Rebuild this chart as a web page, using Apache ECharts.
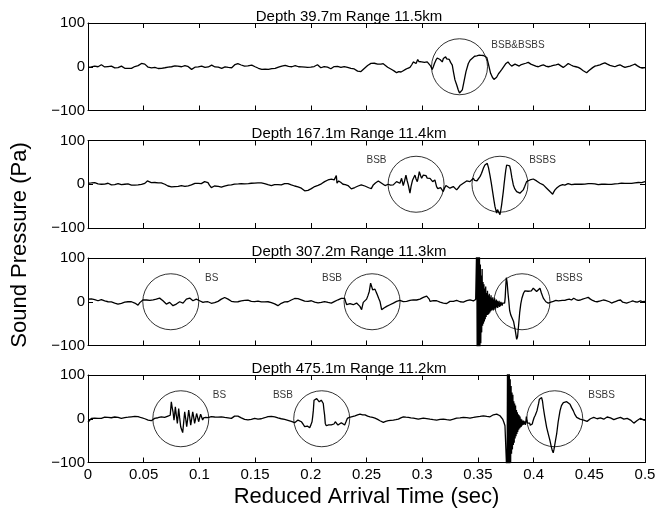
<!DOCTYPE html>
<html><head><meta charset="utf-8">
<script src="https://cdn.jsdelivr.net/npm/echarts@6/dist/echarts.min.js"></script>
<style>html,body{margin:0;padding:0;background:#fff}#c{width:667px;height:510px}</style>
</head><body><div id="c"></div>
<script>
const titles = ['Depth 39.7m Range 11.5km','Depth 167.1m Range 11.4km','Depth 307.2m Range 11.3km','Depth 475.1m Range 11.2km'];
const xTicks = [0,0.05,0.1,0.15,0.2,0.25,0.3,0.35,0.4,0.45,0.5];
const xTickLabels = ['0','0.05','0.1','0.15','0.2','0.25','0.3','0.35','0.4','0.45','0.5'];
const yTicks = [-100,0,100];
const yTickLabels = ['\u2212100','0','100'];

const p1 = [[0,-1.5],[0.0015,0.5],[0.003,-0.5],[0.0045,1],[0.006,1.5],[0.0075,-1],[0.009,0],[0.0105,2.5],[0.012,4.5],[0.0135,2],[0.015,-0.5],[0.0165,-1.5],[0.018,0.5],[0.0195,-0.5],[0.021,1.5],[0.0225,-1],[0.024,-2.5],[0.0254,-3.8],[0.027,-2],[0.0285,0],[0.03,1.5],[0.0315,-0.5],[0.033,-3.5],[0.0345,-6],[0.036,-3.5],[0.0375,-2],[0.039,-3.8],[0.0405,-1.5],[0.042,0.5],[0.0434,1.5],[0.045,2.5],[0.0465,5.5],[0.048,7.6],[0.0495,8],[0.051,6],[0.0525,2.5],[0.054,-1],[0.0554,-3.8],[0.057,-2.5],[0.0585,-1],[0.06,-1.5],[0.0615,-3],[0.063,-4],[0.0645,-5.3],[0.066,-3.5],[0.0675,-1.5],[0.069,-2.3],[0.0705,-0.5],[0.072,-1],[0.0735,0.5],[0.075,0],[0.0765,1.5],[0.078,2],[0.079,3],[0.0805,1.5],[0.082,0.5],[0.084,0],[0.0855,1.5],[0.087,2.5],[0.088,3.8],[0.0895,1],[0.091,-2.5],[0.093,-6],[0.0945,-3.5],[0.096,-1],[0.0975,0.5],[0.099,-0.5],[0.1005,1],[0.102,1.5],[0.1035,0],[0.105,-1.5],[0.1065,-2.3],[0.108,-0.5],[0.1095,1.5],[0.111,3.8],[0.1125,2],[0.114,-0.5],[0.1155,-1.5],[0.117,-1],[0.1185,-2.5],[0.12,-3.8],[0.1215,-2],[0.123,-0.5],[0.1245,0],[0.126,-1.5],[0.1275,-0.5],[0.129,-2.3],[0.1305,0.5],[0.132,5],[0.133,9],[0.1345,7],[0.136,5.3],[0.1375,4],[0.139,2.5],[0.1405,1.5],[0.142,3],[0.1435,2],[0.145,3.5],[0.147,3.8],[0.1485,2],[0.15,0],[0.1515,-1.5],[0.153,-3.5],[0.1545,-5],[0.156,-6],[0.1575,-5],[0.159,-5.5],[0.1605,-4.5],[0.162,-6],[0.1635,-5],[0.165,-4.5],[0.1665,-5.5],[0.168,-3.8],[0.1695,-2],[0.171,-1],[0.1725,0],[0.174,1.5],[0.1755,0.5],[0.177,3],[0.1785,2],[0.18,1],[0.1815,1.5],[0.183,0],[0.1845,1],[0.186,2.3],[0.1875,1.5],[0.189,0],[0.1905,-1.5],[0.192,-0.5],[0.1935,0],[0.195,-1],[0.197,-1.5],[0.1985,-0.5],[0.2,-1],[0.2015,0],[0.203,0.5],[0.2045,3],[0.206,4.5],[0.2075,1],[0.209,-2.3],[0.2105,-1],[0.212,0.5],[0.2135,-0.5],[0.215,-1],[0.2165,-2.5],[0.218,-4.5],[0.2195,-2],[0.221,0.5],[0.2225,2.3],[0.224,1],[0.2255,0],[0.227,-1.5],[0.2285,-0.5],[0.23,0.5],[0.2315,-0.5],[0.233,-1.5],[0.2345,-2.5],[0.236,-3.8],[0.2375,-4.5],[0.239,-5],[0.2405,-7],[0.242,-10],[0.2435,-13],[0.245,-11],[0.2465,-7],[0.248,-3.8],[0.2495,0],[0.251,3],[0.2525,5.5],[0.254,7.6],[0.2555,7],[0.257,8],[0.2585,6.5],[0.26,6],[0.2615,7.5],[0.263,6],[0.265,7],[0.267,3],[0.269,-1],[0.271,-4],[0.273,-7],[0.275,-10],[0.277,-13.6],[0.279,-11],[0.281,-12],[0.283,-9],[0.285,-6],[0.287,-3.5],[0.289,-1.5],[0.2905,4],[0.292,11],[0.293,9],[0.2945,7.5],[0.296,16.6],[0.297,12],[0.298,9],[0.2995,11],[0.301,7.5],[0.302,10],[0.303,13.6],[0.3045,11],[0.306,9],[0.3075,2],[0.309,-6],[0.31,0],[0.311,7.5],[0.3123,15],[0.3135,20],[0.3144,24],[0.315,20],[0.316,16.6],[0.317,14],[0.318,11],[0.319,19],[0.32,18],[0.321,22.7],[0.322,18],[0.323,13.6],[0.3243,16.6],[0.3255,10],[0.327,3.8],[0.328,-11],[0.3294,-30],[0.331,-41.6],[0.3324,-53],[0.3335,-60],[0.3345,-64],[0.3352,-60],[0.336,-53],[0.3375,-34],[0.3393,-11],[0.3414,7.5],[0.343,15],[0.3444,19],[0.347,24],[0.349,25],[0.3512,26.5],[0.353,26],[0.355,25.7],[0.3565,24],[0.358,21],[0.3593,7.5],[0.3614,-15],[0.363,-24],[0.3644,-29],[0.3655,-27],[0.3668,-24],[0.3685,-16],[0.37,-11],[0.3715,-6],[0.373,-1.5],[0.3752,7.5],[0.377,11],[0.3785,6],[0.3803,1.5],[0.382,4],[0.3833,6],[0.385,3.5],[0.3871,1.5],[0.389,5],[0.3907,7.5],[0.393,8],[0.3952,10],[0.3975,6],[0.3997,3.8],[0.402,1.5],[0.4042,0],[0.4065,2.5],[0.4087,4.5],[0.411,1.5],[0.4132,0],[0.4155,1.5],[0.4177,3],[0.42,4.5],[0.4222,6],[0.4245,2],[0.4266,-1.5],[0.429,3],[0.4311,7.5],[0.4335,4],[0.4356,1.5],[0.438,0],[0.4401,-1.5],[0.4425,-5],[0.4446,-9],[0.4462,-12],[0.4476,-13.6],[0.4495,-9],[0.4512,-6],[0.453,-2],[0.4551,1.5],[0.457,2.5],[0.4595,4.5],[0.462,7],[0.464,9],[0.4662,6],[0.4685,3],[0.471,1.5],[0.473,0],[0.4752,2.5],[0.4775,4.5],[0.48,1],[0.482,-1.5],[0.4845,0.5],[0.4865,1.5],[0.489,4],[0.491,6],[0.4932,2],[0.4955,-1.5],[0.4975,-3],[0.4985,-3.8],[0.5,-2]];

const p2 = [[0,2.3],[0.0015,1],[0.003,3],[0.0045,2],[0.006,3.8],[0.0075,2],[0.009,1],[0.0105,-0.5],[0.012,0],[0.0135,1.5],[0.015,0.5],[0.0165,2],[0.018,2.3],[0.0195,0],[0.021,-1.5],[0.0224,-3],[0.024,-1],[0.0255,0.5],[0.027,1.5],[0.0285,0],[0.03,-1],[0.0314,-1.5],[0.033,0],[0.0345,1],[0.0359,0.8],[0.0375,-1],[0.039,-2],[0.0404,-3],[0.042,-2],[0.0435,-1],[0.0449,-1.5],[0.0465,0],[0.048,-0.5],[0.0494,0],[0.051,2],[0.052,5],[0.0533,7.6],[0.055,5],[0.0568,3.8],[0.0585,5],[0.06,4],[0.0613,4.5],[0.063,3],[0.0645,4],[0.0658,3],[0.0675,1.5],[0.069,0],[0.0703,-1.5],[0.0718,-4],[0.0733,-6.8],[0.075,-6],[0.0765,-5],[0.0778,-5.3],[0.0795,-4],[0.081,-5],[0.0825,-3.5],[0.0838,-3],[0.0855,-4],[0.087,-5],[0.0883,-5.3],[0.09,-3.5],[0.0915,-2.5],[0.0928,-1.5],[0.0945,0.5],[0.096,2],[0.0972,3],[0.099,2],[0.1005,1],[0.1017,1.5],[0.103,4],[0.1047,6],[0.106,5],[0.1077,3.8],[0.109,-2],[0.1107,-7.6],[0.112,-5],[0.1135,-4],[0.1152,-3],[0.117,-5],[0.1185,-6],[0.1197,-6.8],[0.121,-5],[0.1225,-4.5],[0.1242,-3.8],[0.126,-2],[0.1275,-2.5],[0.1287,-1.5],[0.13,-1],[0.1315,0.5],[0.1331,0],[0.135,1],[0.136,2],[0.1376,1.5],[0.139,0.5],[0.1405,1],[0.1421,0],[0.144,1.5],[0.1455,1],[0.1466,2.3],[0.148,3],[0.1495,2.5],[0.1511,3.8],[0.1525,3],[0.154,2],[0.1556,3],[0.157,2],[0.1585,1.5],[0.1601,0.8],[0.1615,-1],[0.163,-2],[0.1646,-3],[0.166,-2],[0.1675,-1],[0.169,0],[0.1705,-1],[0.172,-0.5],[0.1735,-1.5],[0.175,0],[0.1765,1.5],[0.178,3],[0.1795,1.5],[0.181,0],[0.1825,-1.5],[0.184,-2.5],[0.1855,-4],[0.187,-5.3],[0.1885,-6],[0.19,-7.5],[0.1915,-9],[0.193,-12],[0.1945,-15],[0.196,-16.7],[0.1975,-14],[0.199,-12.9],[0.2005,-10],[0.202,-7],[0.2035,-5.3],[0.205,-3],[0.2065,-2.5],[0.208,-1.5],[0.2095,1],[0.211,3],[0.2124,6],[0.214,8],[0.2154,9.8],[0.217,10.5],[0.2185,11.5],[0.2199,11.4],[0.221,10],[0.222,9.5],[0.2226,14],[0.2229,19.7],[0.2232,12],[0.2235,2.3],[0.2243,5],[0.225,7.6],[0.2258,5],[0.2268,4.5],[0.228,2],[0.2289,0],[0.231,-1],[0.2334,-3],[0.235,-7],[0.2364,-10.6],[0.238,-9],[0.2395,-7.5],[0.2409,-6],[0.2425,-4],[0.244,-2.5],[0.2453,-1.5],[0.247,-3.5],[0.2485,-4],[0.2498,-5.3],[0.252,-8],[0.2531,-7.6],[0.2543,-10],[0.2561,-1.5],[0.258,3],[0.2606,7.6],[0.262,5],[0.2636,2.3],[0.265,-1],[0.2666,-3],[0.268,-1.5],[0.2696,0],[0.2715,-2],[0.274,-1.5],[0.2755,2],[0.277,6],[0.2785,4],[0.28,2.3],[0.2815,13.6],[0.283,-3],[0.2842,8],[0.2854,21],[0.2865,8],[0.2875,-1.5],[0.289,-20.4],[0.29,-5],[0.2914,9.8],[0.2935,21],[0.2945,12],[0.2956,6],[0.2965,16],[0.2974,28.8],[0.2985,20],[0.2995,13.6],[0.301,21],[0.302,18],[0.3034,19.7],[0.3045,14],[0.3055,9.8],[0.307,13.6],[0.308,10],[0.3094,6],[0.3104,8],[0.3114,9.8],[0.3129,-5.3],[0.314,-10],[0.315,-12.9],[0.3165,-7.6],[0.318,-12],[0.3189,-16.7],[0.32,-9],[0.3213,-3],[0.323,-6],[0.3249,-9],[0.3265,-7],[0.3279,-5.3],[0.3295,-9],[0.3309,-12.9],[0.3325,-8],[0.3339,-3],[0.3355,0],[0.3369,2.3],[0.3385,5],[0.3399,7.6],[0.3415,5],[0.3429,6],[0.3445,10],[0.3459,13.6],[0.347,9],[0.3482,6],[0.3492,8],[0.3503,9.8],[0.352,18],[0.3533,25],[0.355,37],[0.3563,44],[0.3575,47],[0.3584,47.7],[0.3595,38],[0.3608,21],[0.362,3],[0.3632,-16.7],[0.3643,-35],[0.3653,-50.7],[0.3668,-65.9],[0.3676,-58],[0.3683,-54.5],[0.369,-62],[0.3698,-69.6],[0.3705,-60],[0.3713,-47],[0.372,-33],[0.3728,-16.7],[0.3735,0],[0.3743,17.4],[0.375,32],[0.3758,44],[0.3773,47.7],[0.3785,42],[0.3794,32.6],[0.3805,15],[0.3818,-1.5],[0.383,-10],[0.3848,-16.7],[0.3862,-19],[0.3877,-20.4],[0.3892,-17],[0.3907,-12.9],[0.392,-5],[0.3937,6],[0.395,8.5],[0.3967,9.8],[0.398,11],[0.3997,12],[0.401,10],[0.4027,7.6],[0.4042,5],[0.4057,2.3],[0.407,0.5],[0.4087,-1.5],[0.41,-5],[0.4117,-9],[0.413,-13],[0.4147,-16.7],[0.4158,-20],[0.4171,-22.7],[0.418,-18],[0.4192,-12.9],[0.421,-8],[0.4237,-3],[0.426,-1],[0.428,-2],[0.4296,0],[0.431,1.5],[0.4325,0],[0.434,-1],[0.4356,-1.5],[0.437,0],[0.4385,1],[0.44,0.5],[0.4416,1.5],[0.443,0],[0.4445,-1],[0.446,0.5],[0.4476,0],[0.449,1.5],[0.4505,0.5],[0.452,1.5],[0.4536,2.3],[0.455,1],[0.4565,0],[0.458,-1],[0.4595,-1.5],[0.461,0],[0.4625,1],[0.464,0],[0.4655,0.8],[0.467,-0.5],[0.4685,0.5],[0.47,-0.5],[0.4715,0],[0.473,1],[0.4745,0.5],[0.476,1.5],[0.4775,1.5],[0.479,2.5],[0.4805,1.5],[0.482,2],[0.4835,3],[0.485,2],[0.4865,1],[0.488,2],[0.4895,1.5],[0.491,3],[0.4925,6],[0.494,4],[0.4955,2.5],[0.497,3.8],[0.4985,5],[0.5,6]];

const p3 = [[0,6],[0.0015,4.5],[0.003,6.5],[0.0045,7.6],[0.006,5],[0.0075,3.5],[0.009,2.3],[0.0105,3],[0.012,5],[0.0135,4.5],[0.015,2],[0.0165,1],[0.018,0],[0.0195,1],[0.021,-0.5],[0.0224,-1.5],[0.024,-3],[0.0255,-4],[0.0269,-5.3],[0.0285,-4],[0.03,-3.5],[0.0314,-3],[0.033,-1],[0.0345,0.5],[0.0359,0],[0.0375,-1],[0.039,0],[0.0404,-1.5],[0.042,-3],[0.0435,-5],[0.0449,-7.6],[0.0465,-2],[0.0479,2.3],[0.0495,4.5],[0.0509,6],[0.0525,4],[0.0539,2.3],[0.0555,3],[0.0568,3.8],[0.0585,4.5],[0.06,5.5],[0.0613,6],[0.063,7],[0.0643,8.3],[0.0658,5],[0.0673,2.3],[0.069,-2],[0.0703,-5.3],[0.0718,-3],[0.0733,-1.5],[0.0748,-5],[0.0763,-9],[0.0778,-6],[0.0793,-5.3],[0.0808,-3],[0.0823,0],[0.0838,-1.5],[0.0853,-3],[0.0868,1],[0.0883,6],[0.0898,7],[0.0913,8.3],[0.0928,5],[0.0942,2.3],[0.0957,4],[0.0972,6],[0.0987,4],[0.1002,2.3],[0.1017,0.5],[0.1032,-1.5],[0.105,-0.5],[0.1062,1],[0.1077,0],[0.1092,-2],[0.1107,-3.5],[0.1122,-5.3],[0.1137,-2],[0.1152,-0.5],[0.1167,0.8],[0.1182,3],[0.1197,6],[0.1212,8],[0.1227,9.8],[0.1242,8],[0.1257,6],[0.1272,4],[0.1287,1],[0.1302,-1.5],[0.1317,-0.5],[0.1331,0.5],[0.1346,0],[0.1361,1],[0.1376,2],[0.1391,2.3],[0.1406,3],[0.1421,2.5],[0.1436,3.8],[0.1451,2],[0.1466,1],[0.1481,0],[0.1496,0.5],[0.1511,1.5],[0.1526,1.5],[0.1541,0],[0.1556,-0.5],[0.1571,-1.5],[0.1586,-0.5],[0.1601,0.5],[0.1616,0],[0.1631,-1],[0.1646,-2],[0.1661,-3],[0.1676,-5],[0.169,-7],[0.1705,-9],[0.172,-6],[0.1735,-3.5],[0.175,-1.5],[0.1765,-0.5],[0.178,0.5],[0.1795,0],[0.181,2],[0.1825,4],[0.184,6],[0.1855,7.5],[0.187,9],[0.1885,7],[0.19,5.5],[0.1915,4.5],[0.193,3],[0.1945,1.5],[0.196,0],[0.1975,1],[0.199,2],[0.2005,2.3],[0.202,1],[0.2035,-1],[0.205,-3],[0.2065,-2.5],[0.208,-1],[0.2094,-1.5],[0.211,-0.5],[0.2124,0.5],[0.2139,0],[0.2155,-1.5],[0.217,-2],[0.2184,-3],[0.22,-1],[0.2215,1],[0.2229,2.3],[0.2245,4.5],[0.2259,6],[0.2274,7.6],[0.229,7],[0.2304,7.6],[0.2313,0],[0.2322,-6.8],[0.2337,-5],[0.2352,-4.5],[0.2366,-6],[0.2381,-6.8],[0.2396,-4],[0.2411,-3],[0.2426,-6],[0.2441,-10.6],[0.2456,-18.2],[0.2463,-10],[0.2471,-1.5],[0.2486,2],[0.2501,6],[0.2513,14],[0.2525,23.5],[0.2537,42.4],[0.2546,35],[0.2555,27.3],[0.2565,30],[0.2576,28.8],[0.2587,22],[0.2597,15.9],[0.2609,8],[0.2621,0.8],[0.2636,-18.2],[0.2647,-16],[0.2657,-14.4],[0.2669,-12],[0.2681,-10.6],[0.2696,-8],[0.2711,-6.8],[0.2726,-5],[0.2741,-3],[0.2755,-1.5],[0.277,0.8],[0.2785,2],[0.28,3],[0.2815,2],[0.283,0.5],[0.2845,1.5],[0.286,0.8],[0.2875,2],[0.289,3],[0.2905,2.5],[0.292,4.5],[0.2935,5],[0.295,4],[0.2965,5],[0.298,6],[0.2995,8],[0.301,10],[0.3025,12],[0.304,13],[0.3055,13.6],[0.3063,6],[0.307,0.8],[0.3085,1.5],[0.31,2.5],[0.3115,1.5],[0.313,2.3],[0.3145,0.5],[0.316,-1],[0.3175,-2],[0.319,-3],[0.3205,-5],[0.322,-4],[0.3235,-1],[0.3249,0.8],[0.3265,2],[0.328,1],[0.3295,2.5],[0.3309,3],[0.3325,1.5],[0.334,0],[0.3355,-1],[0.3369,-0.8],[0.3385,1],[0.34,2.5],[0.3415,3.5],[0.3429,4.5],[0.3445,3],[0.346,2],[0.3474,3],[0.348,5],
[0.3485,5],[0.349,140],[0.3494,-140],[0.3498,150],[0.3502,-150],[0.3506,130],[0.351,-130],[0.3514,110],[0.3518,-120],[0.3522,85],[0.3526,-95],[0.353,60],[0.3534,-70],[0.3538,75],[0.3542,-55],[0.3546,45],[0.355,-50],[0.3554,40],[0.3558,-45],[0.3562,30],[0.3566,-40],[0.357,35],[0.3574,-35],[0.3578,20],[0.3582,-30],[0.3586,25],[0.359,-30],[0.3594,15],[0.3598,-28],[0.3602,18],[0.3606,-25],[0.361,10],[0.3614,-22],[0.3618,15],[0.3622,-20],[0.3626,8],[0.363,-18],[0.3634,10],[0.3638,-20],[0.3642,5],[0.3646,-15],[0.365,8],[0.3654,-18],[0.3658,3],[0.3662,-15],[0.3666,5],[0.367,-12],[0.3674,2],[0.3678,-14],[0.3682,0],[0.3686,-10],[0.369,2],[0.3694,-12],[0.3698,-2],[0.3702,-10],[0.3706,0],[0.371,-8],[0.3714,-2],[0.3718,-9],[0.3722,-3],[0.3726,-7],[0.373,-2],[0.3735,-5],[0.374,-3],
[0.3745,10],[0.375,35],[0.3755,55],[0.3762,45],[0.377,20],[0.3778,0],[0.3785,-20],[0.3795,-30],[0.3805,-36],[0.382,-45],[0.3835,-65],[0.3848,-86],[0.3856,-80],[0.3865,-55],[0.3875,-25],[0.3885,-5],[0.3895,8],[0.391,20],[0.3922,25],[0.3937,27.3],[0.395,24],[0.3967,19.7],[0.398,25],[0.3997,31],[0.401,27],[0.4027,23.5],[0.404,27],[0.4057,31],[0.407,20],[0.4087,8.3],[0.411,0],[0.4132,-3],[0.4155,-1],[0.4177,0.8],[0.42,3],[0.4222,2],[0.4236,4.5],[0.4258,3],[0.428,3],[0.43,5],[0.432,6],[0.434,4],[0.436,8],[0.438,5],[0.44,3],[0.442,4],[0.444,6],[0.4465,8],[0.449,10],[0.451,6],[0.453,3],[0.455,1],[0.457,0],[0.46,2],[0.4626,4],[0.4645,3],[0.466,2],[0.468,0],[0.47,-3],[0.472,-1],[0.474,1],[0.476,3],[0.478,4],[0.48,-1],[0.4817,-5],[0.4835,-3],[0.485,-2],[0.487,0],[0.489,2],[0.491,0],[0.493,-1],[0.4945,1],[0.496,2],[0.498,0],[0.5,1]];

const p4 = [[0,-8],[0.0015,-5],[0.003,0.8],[0.0045,0],[0.006,1.5],[0.0075,2.3],[0.009,1],[0.0105,0],[0.012,0.8],[0.0135,2],[0.015,3.5],[0.0165,4.5],[0.018,3],[0.0195,2],[0.0209,2.3],[0.0225,3.5],[0.024,4],[0.0254,4.5],[0.027,3],[0.0285,1.5],[0.0299,0.8],[0.0315,2],[0.033,2.5],[0.0344,3],[0.036,3.5],[0.0375,4],[0.0389,4.5],[0.0405,5],[0.042,5.5],[0.0434,6],[0.045,5],[0.0465,3.5],[0.0479,2.3],[0.0495,1],[0.051,0],[0.0524,-1.5],[0.054,-3],[0.0555,-4],[0.0568,-4.5],[0.0585,-2],[0.0598,0.8],[0.0615,1.5],[0.0628,2.3],[0.0645,3.5],[0.0658,4.5],[0.0675,3.5],[0.0688,3],[0.0705,5],[0.0718,6],[0.0728,5],[0.0738,8],[0.0748,38.6],[0.0756,25],[0.0763,15.9],[0.0772,-3],[0.0778,10],[0.0784,27.3],[0.0793,8],[0.0802,-10.6],[0.0808,5],[0.0814,23.5],[0.0823,2],[0.0832,-18.2],[0.0841,-25],[0.085,-31.8],[0.0859,-8],[0.0868,15.9],[0.0877,0],[0.0886,-18.2],[0.0895,0],[0.0904,19.7],[0.0913,3],[0.0922,-14.4],[0.0931,0],[0.094,15.9],[0.0949,3],[0.0957,-10.6],[0.0966,0],[0.0975,12],[0.0984,3],[0.0993,-6.8],[0.1002,2],[0.1011,10.6],[0.102,4],[0.1029,-3],[0.1038,2],[0.1047,6],[0.1056,3],[0.1065,0],[0.1078,2.5],[0.1092,4.5],[0.1107,5],[0.1122,6],[0.1137,4],[0.1152,2.3],[0.1167,3.5],[0.1182,4],[0.1197,4.5],[0.1212,3.5],[0.1227,3],[0.1242,3],[0.1257,2],[0.1272,1.5],[0.1287,0.8],[0.1302,3],[0.1316,6],[0.1331,8.3],[0.1346,6],[0.1361,4.5],[0.1376,2],[0.1391,0],[0.1406,-1.5],[0.1421,-2],[0.1436,-2.5],[0.1451,-3],[0.1466,-1.5],[0.1481,0],[0.1496,0.8],[0.1511,0],[0.1526,-1],[0.1541,-1.5],[0.1556,0],[0.1571,1.5],[0.1586,2.3],[0.1601,3.5],[0.1616,5],[0.1631,6],[0.1646,5.5],[0.1661,5],[0.1676,4.5],[0.169,3.5],[0.1705,2],[0.172,0.8],[0.1735,0],[0.175,-1],[0.1765,-1.5],[0.178,-2.5],[0.1795,-3.5],[0.181,-4.5],[0.1825,-6],[0.184,-7.5],[0.1855,-9],[0.187,-6],[0.1885,-3],[0.19,-5],[0.1915,-6.8],[0.193,-12],[0.1945,-18.2],[0.1957,-17],[0.1969,-16.7],[0.198,-19],[0.199,-20.4],[0.2001,-14],[0.2011,-6.8],[0.2017,5],[0.2023,19.7],[0.2029,42.4],[0.204,44],[0.2053,46],[0.2065,42],[0.2076,38.6],[0.2085,40],[0.2094,42.4],[0.2103,38],[0.2112,34.8],[0.2118,20],[0.2124,8.3],[0.213,-10.6],[0.2139,-16],[0.2148,-19.7],[0.216,-14],[0.2172,-10.6],[0.2184,-14],[0.2196,-16.7],[0.2208,-12],[0.222,-6.8],[0.2232,-10],[0.2244,-14.4],[0.2259,-11],[0.2274,-9],[0.2289,-12],[0.2304,-14.4],[0.2316,-7],[0.2328,0.8],[0.2346,3],[0.2364,4.5],[0.238,6],[0.2397,6.8],[0.242,9],[0.2442,10.6],[0.2465,9],[0.2487,9],[0.251,6],[0.2532,4.5],[0.2555,3],[0.2576,1.5],[0.26,-1.5],[0.2621,-4.5],[0.2636,-6],[0.2651,-8.3],[0.2672,-6],[0.2696,-4.5],[0.2718,-3.5],[0.2741,-3],[0.2763,-2],[0.2786,-0.8],[0.2808,2],[0.2831,4.5],[0.2853,3.5],[0.2876,3],[0.2898,2],[0.2921,1.5],[0.2943,0.5],[0.2965,-0.8],[0.2988,0.5],[0.301,1.5],[0.304,0.5],[0.307,-0.8],[0.31,-2],[0.313,-3],[0.316,-1.5],[0.319,-0.8],[0.322,-2],[0.325,-3],[0.328,-1],[0.3309,1.5],[0.334,2],[0.3369,3],[0.34,2.5],[0.3429,1.5],[0.346,3],[0.3489,4.5],[0.352,5.5],[0.3549,6.8],[0.358,5.5],[0.3609,4.5],[0.3625,7],[0.3639,9],[0.3655,10],[0.3669,10.6],[0.3685,9],[0.3698,6.8],[0.371,3],[0.3722,-0.8],[0.3733,-8],[0.3743,-15.9],[0.3758,-19.7],
[0.3762,-140],[0.3766,140],[0.377,-140],[0.3774,130],[0.3778,-140],[0.3782,120],[0.3786,-110],[0.379,90],[0.3794,-100],[0.3798,75],[0.3802,-80],[0.3806,60],[0.381,-70],[0.3814,55],[0.3818,-60],[0.3822,40],[0.3826,-55],[0.383,35],[0.3834,-45],[0.3838,30],[0.3842,-40],[0.3846,20],[0.385,-35],[0.3854,15],[0.3858,-30],[0.3862,10],[0.3866,-25],[0.387,8],[0.3874,-22],[0.3878,5],[0.3882,-20],[0.3886,0],[0.389,-18],[0.3894,-2],[0.3898,-15],[0.3902,-5],[0.3906,-14],[0.391,-4],[0.3915,-12],[0.392,-6],[0.3925,-14],[0.393,-8],[0.3935,5],[0.394,-4],[0.3945,-10],[0.395,-12],[0.3955,-8],[0.396,-14],[0.3965,-10],[0.397,-15],[0.3975,-12],[0.398,-16],
[0.3988,-12],[0.3995,-5],[0.4005,3],[0.4015,8],[0.403,18],[0.4045,35],[0.4052,44.7],[0.4062,48],[0.4072,48.4],[0.408,40],[0.4087,25.7],[0.41,5],[0.4117,-19.7],[0.4132,-35],[0.4147,-50],[0.4158,-63],[0.4168,-72.7],[0.4176,-78],[0.4183,-70],[0.4195,-52],[0.4207,-34.8],[0.422,-8],[0.4237,18],[0.425,30],[0.4267,37],[0.4282,38.5],[0.4297,39],[0.431,36],[0.4327,33],[0.434,26],[0.4357,18],[0.437,10],[0.4387,3],[0.4402,0],[0.4417,-0.8],[0.443,-2],[0.445,-3],[0.4465,-5],[0.448,-6],[0.4495,-3],[0.451,0],[0.4525,2],[0.454,3],[0.4555,1],[0.457,0],[0.4585,1],[0.46,2],[0.4615,0.5],[0.463,-1],[0.4645,1.5],[0.466,4],[0.4675,3],[0.469,2],[0.4705,0],[0.472,-2],[0.4735,-0.5],[0.475,1],[0.4765,2],[0.478,3],[0.4795,1],[0.481,-1],[0.4825,0],[0.484,1],[0.4855,-1],[0.487,-3],[0.4885,-7],[0.49,-10],[0.4915,-8],[0.493,-4],[0.4945,0],[0.496,1],[0.4975,-1],[0.499,-3],[0.5,-4]];

const circles1 = [0.3335];
const circles2 = [0.2945, 0.3698];
const circles3 = [0.0743, 0.255, 0.3896];
const circles4 = [0.0833, 0.2098, 0.419];

const labels1 = [['BSB&BSBS', 0.386, 50]];
const labels2 = [['BSB', 0.259, 54], ['BSBS', 0.408, 54]];
const labels3 = [['BS', 0.111, 54], ['BSB', 0.219, 54], ['BSBS', 0.432, 54]];
const labels4 = [['BS', 0.118, 54], ['BSB', 0.175, 54], ['BSBS', 0.461, 54]];

const waves = [p1, p2, p3, p4];
const circleSets = [circles1, circles2, circles3, circles4];
const labelSets = [labels1, labels2, labels3, labels4];

const FONT = 'Liberation Sans, Arial, Helvetica, sans-serif';
const tops = [23, 140.5, 258, 375];
const H = 87.5, L = 88, R = 22;

const grid = [], xAxis = [], yAxis = [], series = [], title = [];
const lineCol = '#000';
tops.forEach((t, i) => {
  grid.push({left: L, right: R, top: t, height: H});
  const last = i === 3;
  xAxis.push({type: 'value', gridIndex: i, min: 0, max: 0.5, interval: 0.05, position: 'bottom',
    axisLine: {show: true, onZero: false, lineStyle: {color: lineCol, width: 1}},
    axisTick: {show: true, inside: true, length: 5, lineStyle: {color: lineCol}},
    axisLabel: {show: last, margin: 5, fontSize: 15, color: '#000', fontFamily: FONT,
      formatter: v => { const k = xTicks.findIndex(x => Math.abs(x - v) < 1e-6); return k >= 0 ? xTickLabels[k] : ''; }},
    splitLine: {show: false}});
  xAxis.push({type: 'value', gridIndex: i, min: 0, max: 0.5, interval: 0.05, position: 'top',
    axisLine: {show: true, onZero: false, lineStyle: {color: lineCol, width: 1}},
    axisTick: {show: true, inside: true, length: 5, lineStyle: {color: lineCol}},
    axisLabel: {show: false}, splitLine: {show: false}});
  yAxis.push({type: 'value', gridIndex: i, min: -100, max: 100, interval: 100, position: 'left',
    axisLine: {show: true, onZero: false, lineStyle: {color: lineCol, width: 1}},
    axisTick: {show: true, inside: true, length: 5, lineStyle: {color: lineCol}},
    axisLabel: {show: true, margin: 3, fontSize: 15, color: '#000', fontFamily: FONT,
      formatter: v => { const k = yTicks.indexOf(Math.round(v)); return k >= 0 ? yTickLabels[k] : ''; }},
    splitLine: {show: false}});
  yAxis.push({type: 'value', gridIndex: i, min: -100, max: 100, interval: 100, position: 'right',
    axisLine: {show: true, onZero: false, lineStyle: {color: lineCol, width: 1}},
    axisTick: {show: true, inside: true, length: 5, lineStyle: {color: lineCol}},
    axisLabel: {show: false}, splitLine: {show: false}});
  title.push({text: titles[i], left: 344, top: t - 19, textAlign: 'center',
    textStyle: {fontSize: 15, fontWeight: 'normal', color: '#000', fontFamily: FONT}});
  series.push({type: 'line', xAxisIndex: 2 * i, yAxisIndex: 2 * i, data: waves[i], showSymbol: false,
    symbol: 'none', clip: true, lineStyle: {color: '#000', width: 1.3}, silent: true, z: 3});
  series.push({type: 'scatter', xAxisIndex: 2 * i, yAxisIndex: 2 * i, symbol: 'circle', symbolSize: 56,
    data: circleSets[i].map(c => [c, 0]), silent: true, z: 4,
    itemStyle: {color: 'rgba(0,0,0,0)', borderColor: '#000', borderWidth: 1}});
  series.push({type: 'scatter', xAxisIndex: 2 * i, yAxisIndex: 2 * i, symbol: 'circle', symbolSize: 1,
    data: labelSets[i].map(l => ({name: l[0], value: [l[1], l[2]]})), silent: true, z: 5,
    itemStyle: {color: 'rgba(0,0,0,0)'},
    label: {show: true, position: 'inside', formatter: p => p.name, fontSize: 10, color: '#000', fontFamily: FONT}});
});

const chart = echarts.init(document.getElementById('c'), null, {renderer: 'canvas'});
chart.setOption({
  animation: false,
  backgroundColor: '#fff',
  title, grid, xAxis, yAxis, series,
  graphic: [
    {type: 'text', x: 20, y: 245, rotation: Math.PI / 2,
      style: {text: 'Sound Pressure (Pa)', x: 0, y: 0, align: 'center', verticalAlign: 'middle', textAlign: 'center', textVerticalAlign: 'middle', font: '22px ' + FONT, fill: '#000'}},
    {type: 'text', x: L + (667 - L - R) / 2, y: 497,
      style: {text: 'Reduced Arrival Time (sec)', x: 0, y: 0, align: 'center', verticalAlign: 'middle', textAlign: 'center', textVerticalAlign: 'middle', font: '22px ' + FONT, fill: '#000'}}
  ]
});
</script>
</body></html>
